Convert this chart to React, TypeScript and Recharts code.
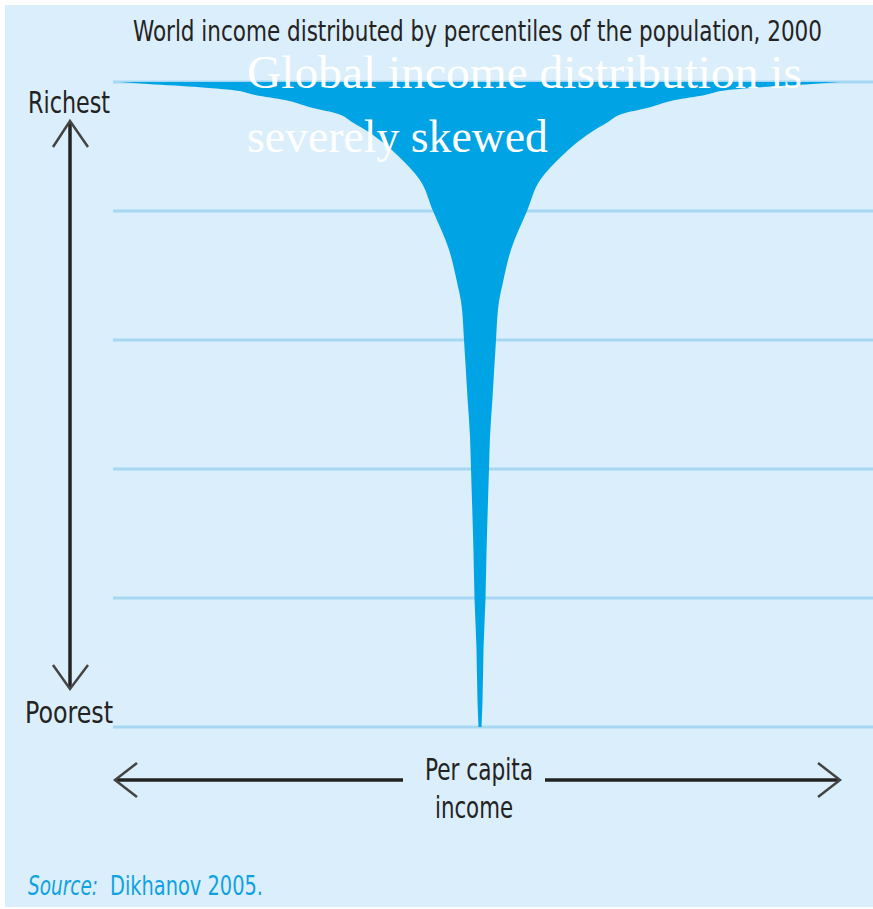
import { ComposedChart, Area, XAxis, YAxis, CartesianGrid } from 'recharts';

// population percentile (0 = poorest, 100 = richest)
const percentiles = [0, 4, 12, 20, 27, 40, 45, 51, 60, 66, 69, 74, 80, 85, 88.4, 90.5, 92.1, 93.6, 95.2, 96.1, 97.2, 98, 98.8, 99.2, 99.7, 100];
// half width of the "champagne glass" = per capita income (index units)
const halfIncome = [1.5, 2.5, 3.5, 5.5, 6.5, 9, 10, 12.5, 16, 19, 23, 31, 47, 61, 81, 96, 110, 126, 145, 170, 195, 225, 250, 280, 332, 360];
const gridValues = [0, 20, 40, 60, 80, 100];

const title = 'World income distributed by percentiles of the population, 2000';
const headline = ['Global income distribution is', 'severely skewed'];
const richLabel = 'Richest';
const poorLabel = 'Poorest';
const incomeLabel = ['Per capita', 'income'];
const sourceLabel = ['Source:', 'Dikhanov 2005.'];

const chartData = percentiles.map((p, i) => ({
  p,
  range: [-halfIncome[i], halfIncome[i]],
}));

const narrow = "'Liberation Sans Narrow', 'DejaVu Sans Condensed', 'Liberation Sans', sans-serif";
const dark = '#232323';

// labels, arrows and the headline sit on top of the glass shape
function Overlay() {
  return (
    <svg width={873} height={909} style={{ position: 'absolute', left: 0, top: 0, pointerEvents: 'none' }}>
      <text x={477.5} y={41} textAnchor="middle" fontFamily={narrow} fontSize={28} fill={dark} textLength={689} lengthAdjust="spacingAndGlyphs">
        {title}
      </text>
      <text x={28} y={113} fontFamily={narrow} fontSize={31} fill={dark} textLength={82} lengthAdjust="spacingAndGlyphs">
        {richLabel}
      </text>
      <text x={25} y={723} fontFamily={narrow} fontSize={31} fill={dark} textLength={88} lengthAdjust="spacingAndGlyphs">
        {poorLabel}
      </text>
      {/* vertical arrow */}
      <line x1={70} y1={122} x2={70} y2={687} stroke={dark} strokeWidth={3.5} />
      <path d="M53,147 L70,121 L88,147" fill="none" stroke="#444" strokeWidth={2.5} />
      <path d="M53,665 L70,689 L88,665" fill="none" stroke="#444" strokeWidth={2.5} />
      {/* horizontal arrow */}
      <line x1={116} y1={780} x2={403} y2={780} stroke={dark} strokeWidth={3.5} />
      <line x1={545} y1={780} x2={839} y2={780} stroke={dark} strokeWidth={3.5} />
      <path d="M137,763 L115,780 L137,797" fill="none" stroke="#444" strokeWidth={2.5} />
      <path d="M818,763 L840,780 L818,797" fill="none" stroke="#444" strokeWidth={2.5} />
      <text x={425} y={780} fontFamily={narrow} fontSize={31} fill={dark} textLength={108} lengthAdjust="spacingAndGlyphs">
        {incomeLabel[0]}
      </text>
      <text x={435} y={818} fontFamily={narrow} fontSize={31} fill={dark} textLength={78} lengthAdjust="spacingAndGlyphs">
        {incomeLabel[1]}
      </text>
      <text x={28} y={895} fontFamily={narrow} fontSize={26} fontStyle="italic" fill="#0ea2e2" textLength={70} lengthAdjust="spacingAndGlyphs">
        {sourceLabel[0]}
      </text>
      <text x={110} y={895} fontFamily={narrow} fontSize={26} fill="#0ea2e2" textLength={153} lengthAdjust="spacingAndGlyphs">
        {sourceLabel[1]}
      </text>
      <text x={247} y={88} fontFamily="'Liberation Serif', serif" fontSize={46} fill="#ffffff" textLength={555} lengthAdjust="spacingAndGlyphs">
        {headline[0]}
      </text>
      <text x={247} y={152} fontFamily="'Liberation Serif', serif" fontSize={46} fill="#ffffff" textLength={301} lengthAdjust="spacingAndGlyphs">
        {headline[1]}
      </text>
    </svg>
  );
}

export default function App() {
  return (
    <div style={{ position: 'absolute', left: 0, top: 0, width: 873, height: 909, background: '#ffffff' }}>
      <div style={{ position: 'absolute', left: 5, top: 5, width: 868, height: 902, background: '#dbeefb' }} />
      <div style={{ position: 'absolute', left: 0, top: 0 }}>
        <ComposedChart
          width={873}
          height={909}
          data={chartData}
          layout="vertical"
          margin={{ top: 82, right: 0, left: 113, bottom: 182 }}
        >
          <CartesianGrid vertical={false} horizontalValues={gridValues} stroke="#a6d8f4" strokeWidth={3} />
          <XAxis type="number" domain={[-367, 393]} allowDataOverflow hide />
          <YAxis type="number" dataKey="p" domain={[0, 100]} ticks={gridValues} reversed allowDataOverflow hide />
          <Area
            type="monotone"
            dataKey="range"
            stroke="none"
            fill="#00a4e4"
            fillOpacity={1}
            isAnimationActive={false}
          />
        </ComposedChart>
      </div>
      <Overlay />
    </div>
  );
}
